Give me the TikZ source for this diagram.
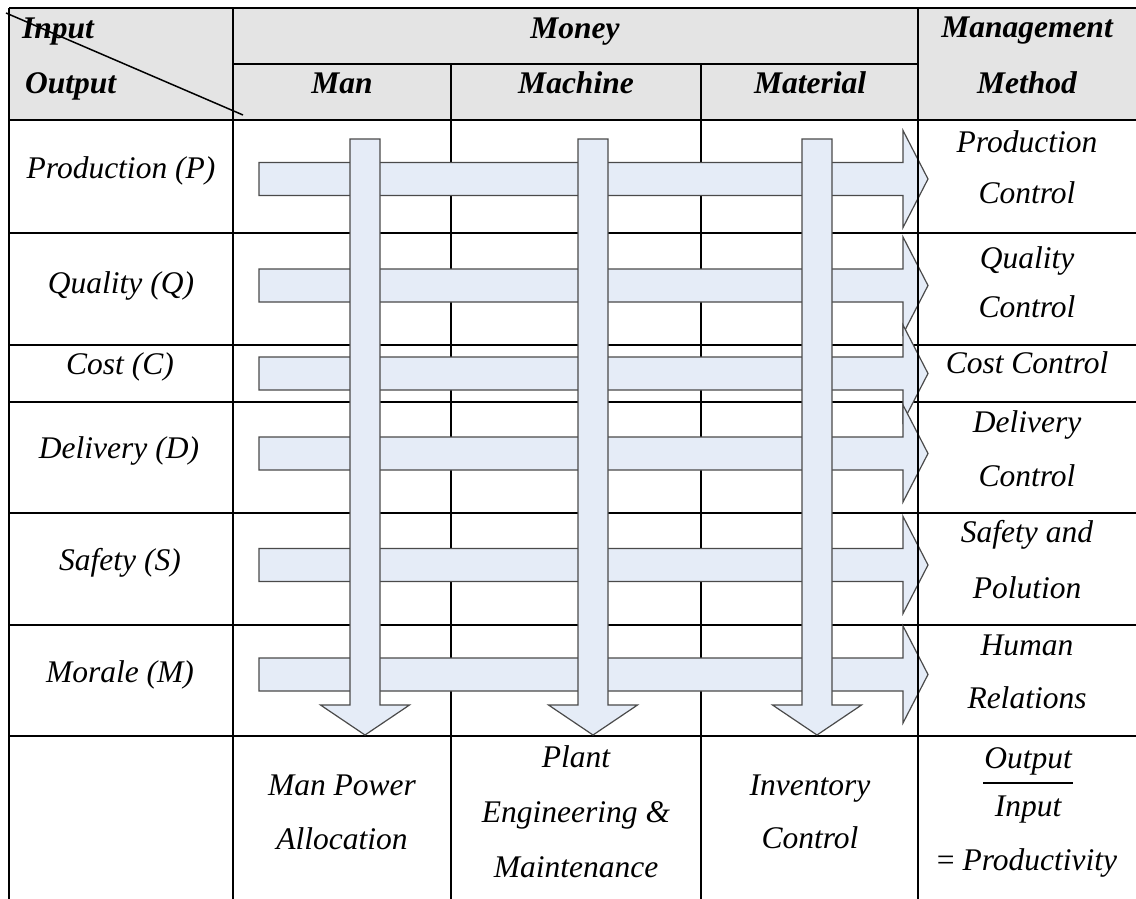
\documentclass[tikz,border=0pt]{standalone}
\usepackage{fontspec}
\setmainfont{Liberation Serif}
\definecolor{hdrfill}{HTML}{E4E4E4}
\definecolor{arrfill}{HTML}{E5ECF7}
\definecolor{arrdraw}{HTML}{4A4A4A}
\tikzset{
  tabline/.style={line width=2pt, black},
  topline/.style={line width=2.6pt, black},
  thinline/.style={line width=1.5pt, black},
  arr/.style={fill=arrfill, draw=arrdraw, line width=1.2pt, line join=miter},
  txt/.style={font=\fontsize{31.5}{36}\selectfont\itshape, inner sep=0pt, anchor=base},
  hdr/.style={font=\fontsize{31.5}{36}\selectfont\bfseries\itshape, inner sep=0pt, anchor=base},
}
\begin{document}
\begin{tikzpicture}[x=1pt,y=-1pt]
\useasboundingbox (0,0) rectangle (1136,899);
% header background
\fill[hdrfill] (9,8) rectangle (1136,120);
% table lines
\draw[topline] (9,8) -- (1136,8);
\draw[thinline] (233,64) -- (918,64);
\draw[tabline] (9,120) -- (1136,120);
\foreach \r in {233,345,402,513,625,736} {\draw[tabline] (9,\r) -- (1136,\r);}
\draw[tabline] (9,8) -- (9,899);
\draw[tabline] (233,8) -- (233,899);
\draw[tabline] (451,64) -- (451,899);
\draw[tabline] (701,64) -- (701,899);
% horizontal arrows
\foreach \c in {179,285.5,373.5,453.5,565,674.5} {
  \draw[arr] (259,\c-16.5) -- (903,\c-16.5) -- (903,\c-48.5) -- (928,\c)
     -- (903,\c+48.5) -- (903,\c+16.5) -- (259,\c+16.5) -- cycle;
}
% vertical arrows
\foreach \c in {365,593,817} {
  \draw[arr] (\c-15,139) -- (\c+15,139) -- (\c+15,705) -- (\c+44.5,705)
     -- (\c,735) -- (\c-44.5,705) -- (\c-15,705) -- cycle;
}
% last column line over the arrow heads
\draw[tabline] (918,8) -- (918,899);
% header texts
\node[hdr, anchor=base west] (tIn) at (22,39) {Input};
\node[hdr, anchor=base west] (tOut) at (25,94) {Output};
\node[hdr] (tMoney) at (575,39) {Money};
\node[hdr] (tMan) at (342,94) {Man};
\node[hdr] (tMach) at (576,94) {Machine};
\node[hdr] (tMat) at (810,94) {Material};
\node[hdr] (tMgmt) at (1027,38) {Management};
\node[hdr] (tMeth) at (1027,93) {Method};
% diagonal
\coordinate (d1) at (6,13);
\coordinate (d2) at (243,115);
\draw[line width=1.5pt] (d1) -- (d2);
% left column
\node[txt] (lP) at (121,178) {Production (P)};
\node[txt] (lQ) at (121,293) {Quality (Q)};
\node[txt] (lC) at (120,374) {Cost (C)};
\node[txt] (lD) at (119,458) {Delivery (D)};
\node[txt] (lS) at (120,570) {Safety (S)};
\node[txt] (lM) at (120,682) {Morale (M)};
% right column
\node[txt] (rP1) at (1027,152) {Production};
\node[txt] (rP2) at (1027,203) {Control};
\node[txt] (rQ1) at (1027,268) {Quality};
\node[txt] (rQ2) at (1027,317) {Control};
\node[txt] (rC) at (1027,373) {Cost Control};
\node[txt] (rD1) at (1027,432) {Delivery};
\node[txt] (rD2) at (1027,486) {Control};
\node[txt] (rS1) at (1027,542) {Safety and};
\node[txt] (rS2) at (1027,598) {Polution};
\node[txt] (rM1) at (1027,655) {Human};
\node[txt] (rM2) at (1027,708) {Relations};
% bottom row
\node[txt] (b11) at (342,795) {Man Power};
\node[txt] (b12) at (342,849) {Allocation};
\node[txt] (b21) at (576,767) {Plant};
\node[txt] (b22) at (576,822) {Engineering \&};
\node[txt] (b23) at (576,877) {Maintenance};
\node[txt] (b31) at (810,795) {Inventory};
\node[txt] (b32) at (810,848) {Control};
\node[txt] (b41) at (1028,768) {Output};
\coordinate (f1) at (983,783);
\coordinate (f2) at (1073,783);
\draw[line width=1.5pt] (f1) -- (f2);
\node[txt] (b42) at (1028,816) {Input};
\node[txt] (b43) at (1027,870) {{\upshape =} Productivity};
\end{tikzpicture}
\end{document}
